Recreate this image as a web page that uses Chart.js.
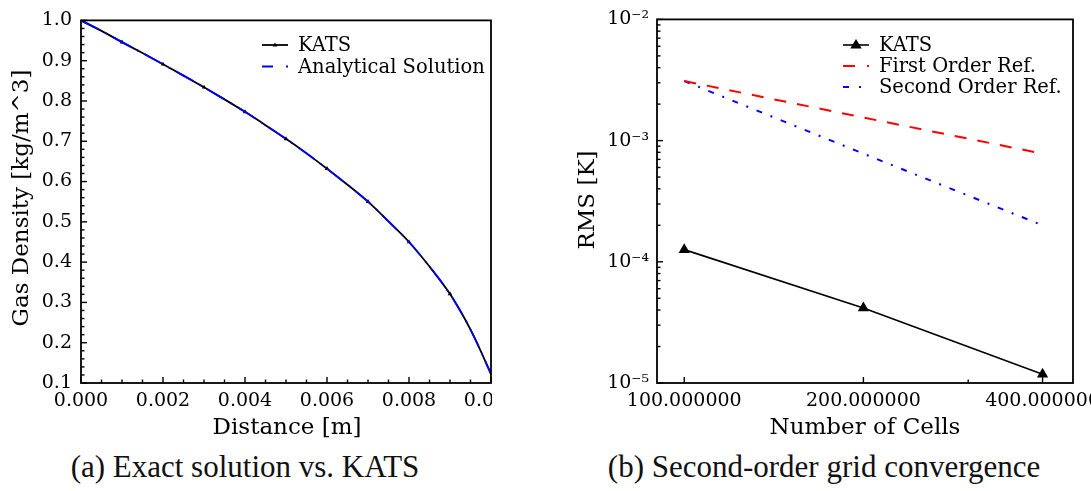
<!DOCTYPE html>
<html>
<head>
<meta charset="utf-8">
<script src="https://cdn.jsdelivr.net/npm/chart.js@4.4.1/dist/chart.umd.min.js"></script>
<style>
    html, body { margin: 0; padding: 0; background: #fff; }
    #page { position: relative; width: 1091px; height: 491px; overflow: hidden; background: #fff; }
    #leftWrap { position: absolute; left: 0; top: 0; width: 492px; height: 440px; overflow: hidden; }
    #leftChart { position: absolute; left: 0; top: 0; }
    #rightChart { position: absolute; left: 560px; top: 0; }
    .caption { position: absolute; top: 449px; font-family: 'Liberation Serif', serif; font-size: 31px;
               color: #111; white-space: nowrap; transform: translateX(-50%); line-height: 36px; }
</style>
</head>
<body>
<div id="page">
    <div id="leftWrap"><canvas id="leftChart" width="580" height="440"></canvas></div>
    <canvas id="rightChart" width="600" height="440"></canvas>
    <div class="caption" style="left:245px">(a) Exact solution vs. KATS</div>
    <div class="caption" style="left:824px">(b) Second-order grid convergence</div>
</div>
<script>
// ── data
const distX            = [0, 0.0005, 0.001, 0.0015, 0.002, 0.0025, 0.003, 0.0035, 0.004, 0.0045, 0.005, 0.0055,
                          0.006, 0.0065, 0.007, 0.0075, 0.008, 0.0085, 0.009, 0.0092, 0.0094, 0.0096, 0.0098, 0.01];
const katsDensity      = [1.000, 0.974, 0.946, 0.919, 0.891, 0.863, 0.834, 0.804, 0.773, 0.740, 0.706, 0.670,
                          0.632, 0.592, 0.550, 0.501, 0.450, 0.389, 0.321, 0.288, 0.252, 0.212, 0.168, 0.122];
const analyticDensity  = [1.000, 0.974, 0.946, 0.919, 0.891, 0.863, 0.834, 0.804, 0.773, 0.740, 0.706, 0.670,
                          0.632, 0.592, 0.550, 0.501, 0.450, 0.389, 0.321, 0.288, 0.252, 0.212, 0.168, 0.122];
const katsMarkerX      = [0.001, 0.002, 0.003, 0.004, 0.005, 0.006, 0.007, 0.008, 0.009];

const cells            = [100, 200, 400];
const katsRms          = [1.26e-4, 4.15e-5, 1.18e-5];
const firstOrderRef    = [3.1e-3, 1.55e-3, 7.8e-4];
const secondOrderRef   = [3.1e-3, 7.8e-4, 2.0e-4];

const cellTicks        = [100, 200, 400];
const cellTickLabels   = ['100.000000', '200.000000', '400.000000'];
const rmsTicks         = [1e-5, 1e-4, 1e-3, 1e-2];
const rmsTickLabels    = ['10\u207B\u2075', '10\u207B\u2074', '10\u207B\u00B3', '10\u207B\u00B2'];

const SERIF = "'DejaVu Serif', serif";
const TICK_FONT = { family: SERIF, size: 19 };

function pairs(xs, ys) { return xs.map(function(x, i) { return { x: x, y: ys[i] }; }); }

// frame, inward ticks, axis titles and the legend, all placed through the chart's scales
function framePlugin(cfg) {
    return {
        id: 'frame',
        afterDraw: function(chart) {
            var ctx = chart.ctx, a = chart.chartArea, xs = chart.scales.x, ys = chart.scales.y;
            ctx.save();
            ctx.strokeStyle = '#000';
            ctx.lineWidth = 1.4;
            ctx.setLineDash([]);
            function tick(v, len, horiz) {
                ctx.beginPath();
                if (horiz) { var px = xs.getPixelForValue(v); ctx.moveTo(px, a.bottom); ctx.lineTo(px, a.bottom - len); }
                else { var py = ys.getPixelForValue(v); ctx.moveTo(a.left, py); ctx.lineTo(a.left + len, py); }
                ctx.stroke();
            }
            xs.ticks.forEach(function(t) { tick(t.value, 6, true); });
            ys.ticks.forEach(function(t) { tick(t.value, 6, false); });
            cfg.xMinor.forEach(function(v) { tick(v, 3.5, true); });
            cfg.yMinor.forEach(function(v) { tick(v, 3.5, false); });
            ctx.lineWidth = 1.8;
            ctx.strokeRect(a.left, a.top, a.right - a.left, a.bottom - a.top);

            ctx.fillStyle = '#000';
            ctx.font = '23px ' + SERIF;
            ctx.textAlign = 'center';
            ctx.textBaseline = 'middle';
            ctx.fillText(cfg.xTitle, cfg.xTitlePos[0], cfg.xTitlePos[1]);
            ctx.save();
            ctx.translate(cfg.yTitlePos[0], cfg.yTitlePos[1]);
            ctx.rotate(-Math.PI / 2);
            ctx.fillText(cfg.yTitle, 0, 0);
            ctx.restore();

            // legend
            ctx.font = '19.5px ' + SERIF;
            ctx.textAlign = 'left';
            cfg.legend.forEach(function(it, i) {
                var y = cfg.legendY + i * cfg.legendStep, x0 = cfg.legendX, x1 = cfg.legendX + 26;
                ctx.strokeStyle = it.color;
                ctx.fillStyle = it.color;
                ctx.lineWidth = it.width;
                ctx.beginPath();
                if (it.kind === 'solid') { ctx.moveTo(x0, y); ctx.lineTo(x1, y); }
                else { ctx.moveTo(x0, y); ctx.lineTo(x0 + it.dash, y); ctx.moveTo(x0 + it.dot, y); ctx.lineTo(x0 + it.dot + 2, y); }
                ctx.stroke();
                if (it.marker) {
                    var cx = (x0 + x1) / 2, r = it.marker;
                    ctx.beginPath();
                    ctx.moveTo(cx, y - r);
                    ctx.lineTo(cx + r * 0.95, y + r * 0.6);
                    ctx.lineTo(cx - r * 0.95, y + r * 0.6);
                    ctx.closePath();
                    ctx.fill();
                }
                ctx.fillStyle = '#000';
                ctx.fillText(it.label, cfg.legendX + 36, y + 1);
            });
            ctx.restore();
        }
    };
}

function range(from, to, step, skipEvery) {
    var out = [];
    for (var i = 0; from + i * step <= to + step * 1e-6; i++) {
        if (skipEvery && i % skipEvery === 0) continue;
        out.push(from + i * step);
    }
    return out;
}

Chart.defaults.font.family = SERIF;
Chart.defaults.color = '#000';
Chart.defaults.animation = false;

// ── (a) density profile
new Chart(document.getElementById('leftChart').getContext('2d'), {
    type: 'line',
    data: {
        datasets: [
            { label: 'KATS', data: pairs(distX, katsDensity), borderColor: '#000', backgroundColor: '#000',
              borderWidth: 1.8, cubicInterpolationMode: 'monotone', order: 1,
              pointStyle: 'triangle', pointBorderWidth: 0,
              pointRadius: function(c) { return katsMarkerX.indexOf(distX[c.dataIndex]) >= 0 ? 2.6 : 0; } },
            { label: 'Analytical Solution', data: pairs(distX, analyticDensity), borderColor: '#0000ff',
              borderWidth: 1.8, borderDash: [20, 7, 2, 7], cubicInterpolationMode: 'monotone', order: 0, pointRadius: 0 }
        ]
    },
    options: {
        responsive: false,
        layout: { padding: { left: 0, right: 89, top: 16, bottom: 0 } },
        plugins: { legend: { display: false }, tooltip: { enabled: false } },
        scales: {
            x: { type: 'linear', min: 0, max: 0.01, grid: { display: false, drawTicks: false }, border: { display: false },
                 ticks: { stepSize: 0.002, font: TICK_FONT, padding: 7, maxRotation: 0, autoSkip: false,
                          callback: function(v) { return v.toFixed(3); } },
                 afterFit: function(s) { s.height = 57; } },
            y: { type: 'linear', min: 0.1, max: 1.0, grid: { display: false, drawTicks: false }, border: { display: false },
                 ticks: { stepSize: 0.1, font: TICK_FONT, padding: 9, autoSkip: false,
                          callback: function(v) { return v.toFixed(1); } },
                 afterFit: function(s) { s.width = 81; } }
        }
    },
    plugins: [framePlugin({
        xMinor: range(0, 0.01, 0.0005, 4), yMinor: range(0.1, 1.0, 0.02, 5),
        xTitle: 'Distance [m]', xTitlePos: [287, 428], yTitle: 'Gas Density [kg/m^3]', yTitlePos: [22, 198],
        legendX: 262, legendY: 45, legendStep: 21.5,
        legend: [
            { label: 'KATS', color: '#000', width: 1.8, kind: 'solid', marker: 2.6 },
            { label: 'Analytical Solution', color: '#0000ff', width: 1.8, kind: 'dashdot', dash: 11, dot: 24 }
        ]
    })]
});

// ── (b) grid convergence
new Chart(document.getElementById('rightChart').getContext('2d'), {
    type: 'line',
    data: {
        datasets: [
            { label: 'KATS', data: pairs(cells, katsRms), borderColor: '#000', backgroundColor: '#000', borderWidth: 1.6,
              pointStyle: 'triangle', pointRadius: 6.5, pointBorderWidth: 0 },
            { label: 'First Order Ref.', data: pairs(cells, firstOrderRef), borderColor: '#ff0000', borderWidth: 2,
              borderDash: [12, 11], pointRadius: 0 },
            { label: 'Second Order Ref.', data: pairs(cells, secondOrderRef), borderColor: '#0000ff', borderWidth: 2,
              borderDash: [6, 9, 2, 9], pointRadius: 0 }
        ]
    },
    options: {
        responsive: false,
        layout: { padding: { left: 0, right: 87, top: 16, bottom: 0 } },
        plugins: { legend: { display: false }, tooltip: { enabled: false } },
        scales: {
            x: { type: 'logarithmic', min: 90, max: 450, grid: { display: false, drawTicks: false }, border: { display: false },
                 afterBuildTicks: function(s) { s.ticks = cellTicks.map(function(v) { return { value: v }; }); },
                 ticks: { font: TICK_FONT, padding: 7, maxRotation: 0, autoSkip: false,
                          callback: function(v, i) { return cellTickLabels[i]; } },
                 afterFit: function(s) { s.height = 57; } },
            y: { type: 'logarithmic', min: 1e-5, max: 1e-2, grid: { display: false, drawTicks: false }, border: { display: false },
                 afterBuildTicks: function(s) { s.ticks = rmsTicks.map(function(v) { return { value: v }; }); },
                 ticks: { font: TICK_FONT, padding: 8, autoSkip: false,
                          callback: function(v, i) { return rmsTickLabels[i]; } },
                 afterFit: function(s) { s.width = 97; } }
        }
    },
    plugins: [framePlugin({
        xMinor: [300],
        yMinor: [1e-5, 1e-4, 1e-3].reduce(function(acc, d) {
            for (var m = 2; m <= 9; m++) acc.push(m * d);
            return acc;
        }, []),
        xTitle: 'Number of Cells', xTitlePos: [305, 428], yTitle: 'RMS [K]', yTitlePos: [28, 200],
        legendX: 283, legendY: 45, legendStep: 21,
        legend: [
            { label: 'KATS', color: '#000', width: 1.6, kind: 'solid', marker: 6 },
            { label: 'First Order Ref.', color: '#ff0000', width: 2, kind: 'dashdot', dash: 12, dot: 24 },
            { label: 'Second Order Ref.', color: '#0000ff', width: 2, kind: 'dashdot', dash: 6, dot: 16 }
        ]
    })]
});
</script>
</body>
</html>
